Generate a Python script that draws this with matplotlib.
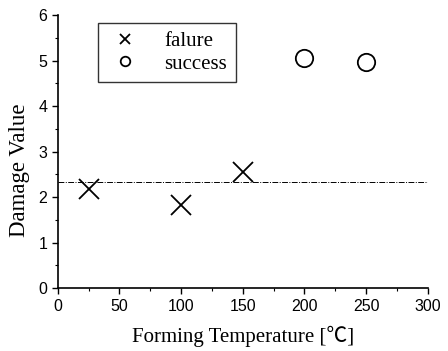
import matplotlib
matplotlib.use("Agg")
import matplotlib.pyplot as plt
from matplotlib.ticker import MultipleLocator

fail_x = [25, 100, 150]
fail_y = [2.18, 1.83, 2.55]
succ_x = [200, 250]
succ_y = [5.05, 4.98]
threshold = 2.33
xticks = [0, 50, 100, 150, 200, 250, 300]
yticks = [0, 1, 2, 3, 4, 5, 6]

fig = plt.figure(figsize=(4.48, 3.51), dpi=100)
ax = fig.add_axes([0.129, 0.179, 0.826, 0.778])

ax.axhline(threshold, color='black', lw=0.7, ls=(0, (6, 1.5, 1, 1.5)), xmin=0, xmax=1)
ax.plot(fail_x, fail_y, ls='none', marker='x', ms=14, mew=1.3, color='black', label='falure')
ax.plot(succ_x, succ_y, ls='none', marker='o', ms=12.5, mew=1.3, mfc='none', mec='black', label='success')

ax.set_xlim(0, 300)
ax.set_ylim(0, 6)
ax.set_xticks(xticks)
ax.set_yticks(yticks)
ax.xaxis.set_minor_locator(MultipleLocator(25))
ax.yaxis.set_minor_locator(MultipleLocator(0.5))
for s in ['top', 'right']:
    ax.spines[s].set_visible(False)
for s in ['left', 'bottom']:
    ax.spines[s].set_linewidth(1.2)
ax.tick_params(which='major', direction='out', length=4, width=1, labelsize=11.5)
ax.tick_params(which='minor', direction='out', length=2, width=0.8)
for lab in ax.get_xticklabels() + ax.get_yticklabels():
    lab.set_family('Liberation Sans')

ax.set_xlabel('Forming Temperature [℃]', fontsize=15,
              family=['Liberation Serif', 'Noto Sans CJK SC'], labelpad=9)
ax.set_ylabel('Damage Value', fontsize=16.5, family='Liberation Serif')
ax.yaxis.set_label_coords(-0.076, 0.43)

leg = ax.legend(loc='upper left', bbox_to_anchor=(0.108, 0.971), borderaxespad=0,
                frameon=True, fancybox=False,
                edgecolor='black', prop={'family': 'Liberation Serif', 'size': 15},
                handletextpad=1.0, borderpad=0.4, labelspacing=0.15, markerscale=0.55,
                handlelength=1.8)
leg.get_frame().set_linewidth(1.0)

fig.savefig('out.png', dpi=100)
